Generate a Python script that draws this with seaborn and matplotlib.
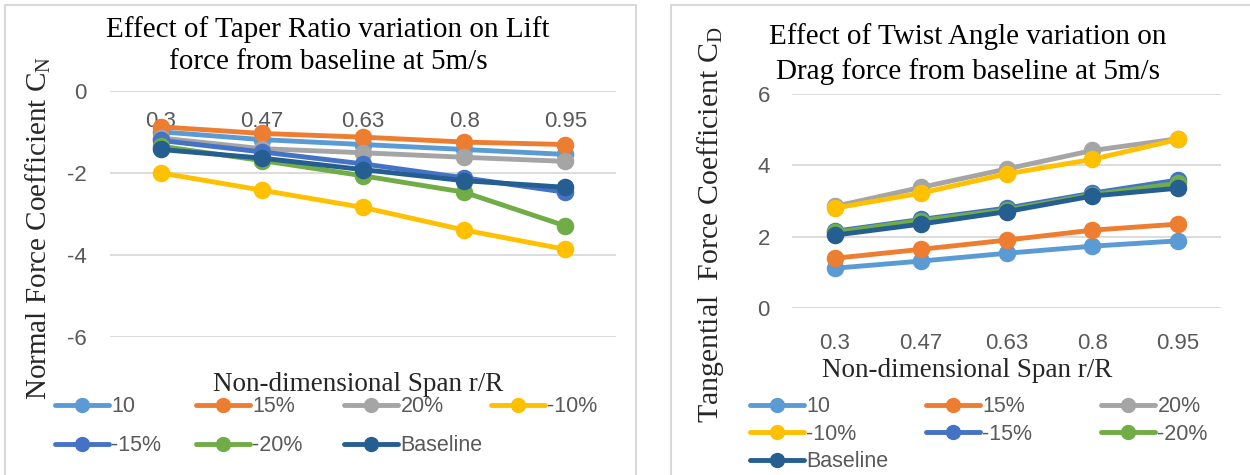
import matplotlib
matplotlib.use("Agg")
import matplotlib.pyplot as plt
import seaborn as sns
import pandas as pd
from matplotlib.lines import Line2D
from matplotlib.patches import Rectangle

# ---------------- data ----------------
span = ["0.3", "0.47", "0.63", "0.8", "0.95"]
series = ["10", "15%", "20%", "-10%", "-15%", "-20%", "Baseline"]

cn_10 = [-1.00, -1.19, -1.31, -1.43, -1.55]
cn_15 = [-0.88, -1.04, -1.13, -1.25, -1.31]
cn_20 = [-1.15, -1.41, -1.51, -1.62, -1.72]
cn_m10 = [-2.00, -2.42, -2.84, -3.39, -3.86]
cn_m15 = [-1.21, -1.49, -1.78, -2.12, -2.47]
cn_m20 = [-1.35, -1.70, -2.07, -2.47, -3.29]
cn_base = [-1.43, -1.64, -1.92, -2.19, -2.35]

cd_10 = [1.11, 1.31, 1.53, 1.73, 1.88]
cd_15 = [1.39, 1.64, 1.90, 2.18, 2.35]
cd_20 = [2.85, 3.38, 3.90, 4.42, 4.75]
cd_m10 = [2.80, 3.22, 3.76, 4.17, 4.73]
cd_m15 = [2.15, 2.48, 2.80, 3.22, 3.59]
cd_m20 = [2.12, 2.45, 2.75, 3.18, 3.50]
cd_base = [2.04, 2.35, 2.70, 3.14, 3.36]

cn_ticks = [-6, -4, -2, 0]
cd_ticks = [0, 2, 4, 6]

colors = ["#5B9BD5", "#ED7D31", "#A5A5A5", "#FFC000", "#4472C4", "#70AD47", "#255E91"]

title_left = "Effect of Taper Ratio variation on Lift\nforce from baseline at 5m/s"
title_right = "Effect of Twist Angle variation on\nDrag force from baseline at 5m/s"
xlabel = "Non-dimensional Span r/R"
ylabel_left = "Normal Force Coefficient C$_{\\mathrm{N}}$"
ylabel_right = "Tangential  Force Coefficient C$_{\\mathrm{D}}$"


def long_df(cols):
    rows = []
    for name, vals in zip(series, cols):
        for s, v in zip(span, vals):
            rows.append({"span": s, "series": name, "value": v})
    return pd.DataFrame(rows)


dfL = long_df([cn_10, cn_15, cn_20, cn_m10, cn_m15, cn_m20, cn_base])
dfR = long_df([cd_10, cd_15, cd_20, cd_m10, cd_m15, cd_m20, cd_base])

# ---------------- style ----------------
sns.set_theme(style="white")
plt.rcParams["font.family"] = ["Liberation Serif", "DejaVu Serif"]
plt.rcParams["mathtext.fontset"] = "custom"
plt.rcParams["mathtext.rm"] = "Liberation Serif"
plt.rcParams["mathtext.it"] = "Liberation Serif:italic"
plt.rcParams["axes.unicode_minus"] = False

SANS = ["Liberation Sans Narrow", "Liberation Sans", "DejaVu Sans"]
GRAY_TXT = "#595959"
GRID = "#D9D9D9"
W, H = 1250, 475

fig = plt.figure(figsize=(W / 100, H / 100), dpi=100)
fig.patch.set_facecolor("white")


def px_rect(l, t, r, b):
    return [l / W, 1 - b / H, (r - l) / W, (b - t) / H]


# chart frames
fig.patches.append(Rectangle((5 / W, -0.1), (636 - 5) / W, 1 - 5 / H + 0.1,
                             transform=fig.transFigure, fill=False,
                             edgecolor=GRID, lw=1.5, zorder=0))
fig.patches.append(Rectangle((671 / W, -0.1), 1.0, 1 - 5 / H + 0.1,
                             transform=fig.transFigure, fill=False,
                             edgecolor=GRID, lw=1.5, zorder=0))

axL = fig.add_axes(px_rect(110, 90.7, 616, 337.3))
axR = fig.add_axes(px_rect(792, 94.3, 1221, 307.7))

for ax, df in [(axL, dfL), (axR, dfR)]:
    sns.pointplot(data=df, x="span", y="value", hue="series", order=span,
                  hue_order=series, palette=colors, markers="o",
                  linestyles="-", errorbar=None, legend=False, ax=ax,
                  markersize=10, linewidth=3.5)
    ax.set_axisbelow(True)
    for sp in ax.spines.values():
        sp.set_visible(False)
    ax.grid(axis="y", color=GRID, lw=1.3)
    ax.grid(axis="x", visible=False)
    ax.set_xlim(-0.5, 4.5)
    ax.set_facecolor("none")

# left axes
axL.set_ylim(-6, 0)
axL.set_yticks(cn_ticks)
axL.tick_params(axis="x", bottom=False, top=False, labelbottom=False,
                labeltop=True, pad=-30, length=0)
axL.tick_params(axis="y", length=0, pad=17)
axL.set_xlabel(xlabel, fontsize=19.5, va="center")
axL.xaxis.set_label_position("bottom")
axL.xaxis.set_label_coords(0.490, -0.1395)
axL.set_ylabel(ylabel_left, fontsize=21, va="center")
axL.yaxis.set_label_coords(-0.142, 0.443)

# right axes
axR.set_ylim(0, 6)
axR.set_yticks(cd_ticks)
axR.tick_params(axis="x", length=0, pad=18)
axR.tick_params(axis="y", length=0, pad=16)
axR.set_xlabel(xlabel, fontsize=19.5, va="center")
axR.xaxis.set_label_coords(0.408, -0.292)
axR.set_ylabel(ylabel_right, fontsize=21.5, va="center")
axR.yaxis.set_label_coords(-0.191, 0.3875)

for ax in (axL, axR):
    for t in ax.get_xticklabels() + ax.get_yticklabels():
        t.set_fontfamily(SANS)
        t.set_fontsize(16)
        t.set_color(GRAY_TXT)

# titles
fig.text(328 / W, 1 - 46 / H, title_left, ha="center", va="center",
         fontsize=21, linespacing=1.3, color="black")
fig.text(968 / W, 1 - 54 / H, title_right, ha="center", va="center",
         fontsize=21, linespacing=1.4, color="black")

# legends (one entry each, laid out like the spreadsheet legend)
left_pos = [(55, 406.7), (196, 406.7), (344, 406.7), (491, 406.7),
            (55, 445.7), (196, 445.7), (344, 445.7)]
right_pos = [(750, 406.7), (926, 406.7), (1101, 406.7),
             (750, 434.0), (926, 434.0), (1101, 434.0),
             (750, 461.7)]

for positions in (left_pos, right_pos):
    for name, col, (x, y) in zip(series, colors, positions):
        h = Line2D([0], [0], color=col, lw=3.5, marker="o", markersize=10)
        fig.legend([h], [name], loc="center left",
                   bbox_to_anchor=(x / W, 1 - y / H),
                   bbox_transform=fig.transFigure, frameon=False,
                   borderpad=0, borderaxespad=0, handlelength=2.5,
                   handletextpad=0.12,
                   prop={"family": SANS, "size": 15.5}, labelcolor=GRAY_TXT)

fig.savefig("out.png", dpi=100, facecolor="white")
